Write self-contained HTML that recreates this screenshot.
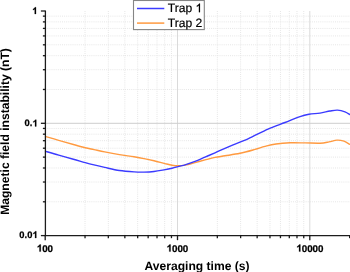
<!DOCTYPE html>
<html><head><meta charset="utf-8"><style>html,body{margin:0;padding:0;background:#fff;}svg{display:block;}</style></head>
<body><svg width="350" height="272" viewBox="0 0 350 272">
<style>
.mg{stroke:#e6e6e6;stroke-width:1;stroke-dasharray:1 1.1;}
.Mg{stroke:#cdcdcd;stroke-width:1;}
.ax{stroke:#1a1a1a;stroke-width:1.3;}
.cv{fill:none;stroke-width:1.4;stroke-linejoin:round;}
text{font-family:"Liberation Sans",sans-serif;text-rendering:geometricPrecision;}
.tl{font-size:9.8px;font-weight:bold;fill:#000;stroke:#000;stroke-width:0.25px;}
.at{font-size:12.1px;font-weight:bold;fill:#000;}
.lg{font-size:12.1px;fill:#000;stroke:#000;stroke-width:0.2px;}

.o1b{fill:#000;stroke:#000;stroke-width:0.25px;vector-effect:non-scaling-stroke;}
.o1r{fill:#000;stroke:#000;stroke-width:0.2px;vector-effect:non-scaling-stroke;}
</style>
<defs><filter id="bl" filterUnits="userSpaceOnUse" x="0" y="0" width="350" height="272"><feGaussianBlur stdDeviation="0.35"/></filter></defs>
<rect width="350" height="272" fill="#fff"/>
<g filter="url(#bl)">
<line x1="85.03" y1="11.00" x2="85.03" y2="235.60" class="mg"/><line x1="108.32" y1="11.00" x2="108.32" y2="235.60" class="mg"/><line x1="124.85" y1="11.00" x2="124.85" y2="235.60" class="mg"/><line x1="137.67" y1="11.00" x2="137.67" y2="235.60" class="mg"/><line x1="148.15" y1="11.00" x2="148.15" y2="235.60" class="mg"/><line x1="157.01" y1="11.00" x2="157.01" y2="235.60" class="mg"/><line x1="164.68" y1="11.00" x2="164.68" y2="235.60" class="mg"/><line x1="171.45" y1="11.00" x2="171.45" y2="235.60" class="mg"/><line x1="217.33" y1="11.00" x2="217.33" y2="235.60" class="mg"/><line x1="240.62" y1="11.00" x2="240.62" y2="235.60" class="mg"/><line x1="257.15" y1="11.00" x2="257.15" y2="235.60" class="mg"/><line x1="269.97" y1="11.00" x2="269.97" y2="235.60" class="mg"/><line x1="280.45" y1="11.00" x2="280.45" y2="235.60" class="mg"/><line x1="289.31" y1="11.00" x2="289.31" y2="235.60" class="mg"/><line x1="296.98" y1="11.00" x2="296.98" y2="235.60" class="mg"/><line x1="303.75" y1="11.00" x2="303.75" y2="235.60" class="mg"/><line x1="45.20" y1="201.79" x2="350" y2="201.79" class="mg"/><line x1="45.20" y1="182.02" x2="350" y2="182.02" class="mg"/><line x1="45.20" y1="167.99" x2="350" y2="167.99" class="mg"/><line x1="45.20" y1="157.11" x2="350" y2="157.11" class="mg"/><line x1="45.20" y1="148.21" x2="350" y2="148.21" class="mg"/><line x1="45.20" y1="140.70" x2="350" y2="140.70" class="mg"/><line x1="45.20" y1="134.18" x2="350" y2="134.18" class="mg"/><line x1="45.20" y1="128.44" x2="350" y2="128.44" class="mg"/><line x1="45.20" y1="89.49" x2="350" y2="89.49" class="mg"/><line x1="45.20" y1="69.72" x2="350" y2="69.72" class="mg"/><line x1="45.20" y1="55.69" x2="350" y2="55.69" class="mg"/><line x1="45.20" y1="44.81" x2="350" y2="44.81" class="mg"/><line x1="45.20" y1="35.91" x2="350" y2="35.91" class="mg"/><line x1="45.20" y1="28.40" x2="350" y2="28.40" class="mg"/><line x1="45.20" y1="21.88" x2="350" y2="21.88" class="mg"/><line x1="45.20" y1="16.14" x2="350" y2="16.14" class="mg"/><line x1="177.50" y1="11.00" x2="177.50" y2="235.60" class="Mg" style="stroke:#dadada"/><line x1="309.80" y1="11.00" x2="309.80" y2="235.60" class="Mg" style="stroke:#dadada"/><line x1="45.20" y1="123.30" x2="350" y2="123.30" class="Mg"/>
<path d="M45.00,136.40 C47.28,137.05 53.97,138.95 58.70,140.30 C63.43,141.65 68.98,143.27 73.40,144.50 C77.82,145.73 81.77,146.85 85.20,147.70 C88.63,148.55 90.75,148.90 94.00,149.60 C97.25,150.30 100.47,151.07 104.70,151.90 C108.93,152.73 114.52,153.78 119.40,154.60 C124.28,155.42 129.90,156.13 134.00,156.80 C138.10,157.47 140.67,157.93 144.00,158.60 C147.33,159.27 150.50,159.97 154.00,160.80 C157.50,161.63 162.00,162.87 165.00,163.60 C168.00,164.33 169.83,164.83 172.00,165.20 C174.17,165.57 175.83,165.82 178.00,165.80 C180.17,165.78 182.17,165.63 185.00,165.10 C187.83,164.57 191.67,163.47 195.00,162.60 C198.33,161.73 201.67,160.77 205.00,159.90 C208.33,159.03 211.67,158.08 215.00,157.40 C218.33,156.72 220.83,156.48 225.00,155.80 C229.17,155.12 235.00,154.37 240.00,153.30 C245.00,152.23 250.83,150.55 255.00,149.40 C259.17,148.25 261.50,147.30 265.00,146.40 C268.50,145.50 271.83,144.60 276.00,144.00 C280.17,143.40 285.17,142.98 290.00,142.80 C294.83,142.62 300.00,142.83 305.00,142.90 C310.00,142.97 316.00,143.37 320.00,143.20 C324.00,143.03 326.17,142.42 329.00,141.90 C331.83,141.38 334.50,140.22 337.00,140.10 C339.50,139.98 341.83,140.47 344.00,141.20 C346.17,141.93 349.00,143.95 350.00,144.50" class="cv" stroke="#ff9a40"/>
<path d="M45.00,151.20 C47.28,151.87 53.97,153.87 58.70,155.20 C63.43,156.53 68.98,157.97 73.40,159.20 C77.82,160.43 81.77,161.65 85.20,162.60 C88.63,163.55 90.75,164.10 94.00,164.90 C97.25,165.70 100.47,166.47 104.70,167.40 C108.93,168.33 114.47,169.75 119.40,170.50 C124.33,171.25 130.20,171.63 134.30,171.90 C138.40,172.17 140.72,172.17 144.00,172.10 C147.28,172.03 150.67,171.87 154.00,171.50 C157.33,171.13 161.00,170.43 164.00,169.90 C167.00,169.37 169.33,168.93 172.00,168.30 C174.67,167.67 177.83,166.67 180.00,166.10 C182.17,165.53 182.50,165.68 185.00,164.90 C187.50,164.12 191.67,162.70 195.00,161.40 C198.33,160.10 201.67,158.53 205.00,157.10 C208.33,155.67 211.00,154.55 215.00,152.80 C219.00,151.05 223.50,148.92 229.00,146.60 C234.50,144.28 241.50,141.82 248.00,138.90 C254.50,135.98 261.83,131.83 268.00,129.10 C274.17,126.37 279.67,124.58 285.00,122.50 C290.33,120.42 296.00,117.97 300.00,116.60 C304.00,115.23 305.67,114.88 309.00,114.30 C312.33,113.72 316.50,113.65 320.00,113.10 C323.50,112.55 327.08,111.50 330.00,111.00 C332.92,110.50 335.00,109.97 337.50,110.10 C340.00,110.23 342.92,111.03 345.00,111.80 C347.08,112.57 349.17,114.22 350.00,114.70" class="cv" stroke="#3a3aff"/>
<line x1="45.40" y1="10.50" x2="45.40" y2="235.60" class="ax"/><line x1="44.70" y1="235.60" x2="350" y2="235.60" class="ax"/><line x1="40.90" y1="11.00" x2="45.20" y2="11.00" class="ax"/><line x1="40.90" y1="123.30" x2="45.20" y2="123.30" class="ax"/><line x1="40.90" y1="235.60" x2="45.20" y2="235.60" class="ax"/><line x1="42.90" y1="201.79" x2="45.20" y2="201.79" class="ax"/><line x1="42.90" y1="182.02" x2="45.20" y2="182.02" class="ax"/><line x1="42.90" y1="167.99" x2="45.20" y2="167.99" class="ax"/><line x1="42.90" y1="157.11" x2="45.20" y2="157.11" class="ax"/><line x1="42.90" y1="148.21" x2="45.20" y2="148.21" class="ax"/><line x1="42.90" y1="140.70" x2="45.20" y2="140.70" class="ax"/><line x1="42.90" y1="134.18" x2="45.20" y2="134.18" class="ax"/><line x1="42.90" y1="128.44" x2="45.20" y2="128.44" class="ax"/><line x1="42.90" y1="89.49" x2="45.20" y2="89.49" class="ax"/><line x1="42.90" y1="69.72" x2="45.20" y2="69.72" class="ax"/><line x1="42.90" y1="55.69" x2="45.20" y2="55.69" class="ax"/><line x1="42.90" y1="44.81" x2="45.20" y2="44.81" class="ax"/><line x1="42.90" y1="35.91" x2="45.20" y2="35.91" class="ax"/><line x1="42.90" y1="28.40" x2="45.20" y2="28.40" class="ax"/><line x1="42.90" y1="21.88" x2="45.20" y2="21.88" class="ax"/><line x1="42.90" y1="16.14" x2="45.20" y2="16.14" class="ax"/><line x1="45.20" y1="235.60" x2="45.20" y2="240.20" class="ax"/><line x1="177.50" y1="235.60" x2="177.50" y2="240.20" class="ax"/><line x1="309.80" y1="235.60" x2="309.80" y2="240.20" class="ax"/><line x1="85.03" y1="235.60" x2="85.03" y2="238.20" class="ax"/><line x1="108.32" y1="235.60" x2="108.32" y2="238.20" class="ax"/><line x1="124.85" y1="235.60" x2="124.85" y2="238.20" class="ax"/><line x1="137.67" y1="235.60" x2="137.67" y2="238.20" class="ax"/><line x1="148.15" y1="235.60" x2="148.15" y2="238.20" class="ax"/><line x1="157.01" y1="235.60" x2="157.01" y2="238.20" class="ax"/><line x1="164.68" y1="235.60" x2="164.68" y2="238.20" class="ax"/><line x1="171.45" y1="235.60" x2="171.45" y2="238.20" class="ax"/><line x1="217.33" y1="235.60" x2="217.33" y2="238.20" class="ax"/><line x1="240.62" y1="235.60" x2="240.62" y2="238.20" class="ax"/><line x1="257.15" y1="235.60" x2="257.15" y2="238.20" class="ax"/><line x1="269.97" y1="235.60" x2="269.97" y2="238.20" class="ax"/><line x1="280.45" y1="235.60" x2="280.45" y2="238.20" class="ax"/><line x1="289.31" y1="235.60" x2="289.31" y2="238.20" class="ax"/><line x1="296.98" y1="235.60" x2="296.98" y2="238.20" class="ax"/><line x1="303.75" y1="235.60" x2="303.75" y2="238.20" class="ax"/><line x1="349.63" y1="235.60" x2="349.63" y2="238.20" class="ax"/>
<text id="tl0" class="tl" x="37.6" y="126.4" text-anchor="end" style="font-size:9.4px">0. </text>
<text id="tl1" class="tl" x="37.3" y="14" text-anchor="end" style="font-size:9.4px"> </text>
<text id="tl2" class="tl" x="37.6" y="238" text-anchor="end" style="font-size:9.4px">0.0 </text>
<text id="tl3" class="tl" x="44.9" y="251.6" text-anchor="middle"> 00</text>
<text id="tl4" class="tl" x="177.4" y="251.6" text-anchor="middle"> 000</text>
<text id="tl5" class="tl" x="309.9" y="251.6" text-anchor="middle"> 0000</text><text class="at" x="197.0" y="269.8" text-anchor="middle">Averaging time (s)</text>
<text class="at" transform="translate(9.2,131.5) rotate(-90)" text-anchor="middle">Magnetic field instability (nT)</text>
<rect x="133.5" y="0.5" width="70.8" height="29.1" fill="#fff" stroke="#858585" stroke-width="1.1"/>
<line x1="137" y1="8.5" x2="164.3" y2="8.5" stroke="#3a3aff" stroke-width="1.5"/>
<line x1="137" y1="23.1" x2="164.3" y2="23.1" stroke="#ff9a40" stroke-width="1.5"/>
<text id="lg0" class="lg" x="167.7" y="12.2" text-anchor="start">Trap  </text>
<text id="lg1" class="lg" x="167.7" y="27.1" text-anchor="start">Trap 2</text>
<path d="M856,0 L575,0 L575,1059 Q420,915 197,846 L197,1101 Q330,1150 450,1250 Q570,1350 628,1472 L856,1472 Z" transform="translate(32.366,126.400) scale(0.004590,-0.004590)" class="o1b"/>
<path d="M856,0 L575,0 L575,1059 Q420,915 197,846 L197,1101 Q330,1150 450,1250 Q570,1350 628,1472 L856,1472 Z" transform="translate(32.081,14.000) scale(0.004590,-0.004590)" class="o1b"/>
<path d="M856,0 L575,0 L575,1059 Q420,915 197,846 L197,1101 Q330,1150 450,1250 Q570,1350 628,1472 L856,1472 Z" transform="translate(32.381,238.000) scale(0.004590,-0.004590)" class="o1b"/>
<path d="M856,0 L575,0 L575,1059 Q420,915 197,846 L197,1101 Q330,1150 450,1250 Q570,1350 628,1472 L856,1472 Z" transform="translate(36.720,251.600) scale(0.004785,-0.004785)" class="o1b"/>
<path d="M856,0 L575,0 L575,1059 Q420,915 197,846 L197,1101 Q330,1150 450,1250 Q570,1350 628,1472 L856,1472 Z" transform="translate(166.502,251.600) scale(0.004785,-0.004785)" class="o1b"/>
<path d="M856,0 L575,0 L575,1059 Q420,915 197,846 L197,1101 Q330,1150 450,1250 Q570,1350 628,1472 L856,1472 Z" transform="translate(296.275,251.600) scale(0.004785,-0.004785)" class="o1b"/>
<path d="M763,0 L583,0 L583,1147 Q470,1040 223,932 L223,1104 Q420,1200 540,1330 Q610,1405 646,1466 L763,1466 Z" transform="translate(195.466,12.200) scale(0.005908,-0.005908)" class="o1r"/>
</g></svg></body></html>
